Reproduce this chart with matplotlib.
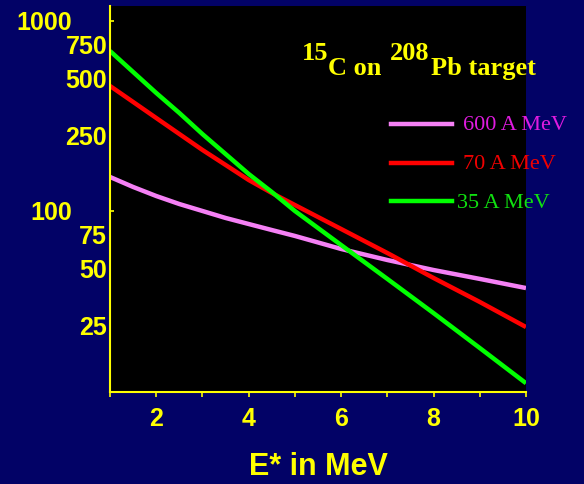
import numpy as np
import matplotlib
matplotlib.use('Agg')
import matplotlib.pyplot as plt
from matplotlib.lines import Line2D
from matplotlib.ticker import FixedLocator, NullFormatter

# excitation energy E* (MeV) and the three curves
e_star = [1, 1.5, 2, 2.5, 3, 3.5, 4, 4.5, 5, 6, 7, 8, 9, 10]
val_600 = [151, 133.8, 119.9, 108.8, 100, 91.9, 85.4, 79.4, 73.9, 63.1, 55.2, 48.9, 43.9, 39.3]
val_70 = [455, 374.8, 308.6, 254.2, 209.5, 174.7, 145.6, 124.4, 107.5, 80.4, 60.1, 44.4, 33.2, 24.5]
val_35 = [695, 539, 418, 328, 254, 199.5, 156.6, 125.9, 100, 66.2, 43.9, 29.0, 19.0, 12.4]

labels = ['600 A MeV', '70 A MeV', '35 A MeV']
line_colors = ['#F580F5', '#FF0000', '#00FF00']
text_colors = ['#E01BE0', '#F00000', '#10E010']

ymajor = [100, 1000]
yminor = [25, 50, 75, 250, 500, 750]
xmajor = [2, 4, 6, 8, 10]
xminor = [1, 3, 5, 7, 9]

W, H = 584, 484
bg = '#020266'
yel = '#FFFF00'
sans = 'Liberation Sans'
serif = 'Liberation Serif'

fig = plt.figure(figsize=(W / 100, H / 100), dpi=100, facecolor=bg)
ax = fig.add_axes([110 / W, 1 - 392 / H, 416 / W, 386 / H])
ax.set_facecolor('black')

for vals, c in zip([val_600, val_70, val_35], line_colors):
    ax.plot(e_star, vals, color=c, lw=3.2, solid_capstyle='butt')

ax.set_yscale('log')
ax.set_xlim(1, 10)
ax.set_ylim(11.15, 1199)

for s in ['top', 'right']:
    ax.spines[s].set_visible(False)
for s in ['left', 'bottom']:
    ax.spines[s].set_color(yel)
    ax.spines[s].set_linewidth(1.5)

ax.yaxis.set_major_locator(FixedLocator(ymajor))
ax.yaxis.set_minor_locator(FixedLocator(yminor))
ax.set_yticklabels([str(v) for v in ymajor])
ax.set_yticklabels([str(v) for v in yminor], minor=True)
ax.tick_params(axis='y', which='major', direction='in', length=3, width=1.2,
               color=yel, pad=27, labelcolor=yel, labelsize=18)
ax.tick_params(axis='y', which='minor', length=0, pad=2,
               labelcolor=yel, labelsize=18)

ax.xaxis.set_major_locator(FixedLocator(xmajor))
ax.xaxis.set_minor_locator(FixedLocator(xminor))
ax.xaxis.set_minor_formatter(NullFormatter())
ax.set_xticklabels([str(v) for v in xmajor])
ax.tick_params(axis='x', which='both', direction='out', length=3.5, width=1.2,
               color=yel, pad=7, labelcolor=yel, labelsize=18)

for lab in ax.get_xticklabels() + ax.get_yticklabels() + ax.get_yticklabels(minor=True):
    lab.set_fontfamily(sans)
    lab.set_fontweight('bold')

ax.set_xlabel('E* in MeV', color=yel, fontsize=22, fontweight='bold',
              fontfamily=sans, va='center')
ax.xaxis.set_label_coords(0.5, -0.194)

# title with superscript mass numbers, built piece by piece
renderer = fig.canvas.get_renderer()
pieces = [('15', True, 0), ('C on', False, 8), ('208', True, 2), ('Pb target', False, 0)]
x = 302
for txt, sup, gap in pieces:
    base = 60 if sup else 75
    t = fig.text(x / W, 1 - base / H, txt, color=yel, fontsize=19,
                 fontweight='bold', fontfamily=serif, va='baseline', ha='left')
    x = t.get_window_extent(renderer).x1 + gap

# hand-made legend
leg_y = [124, 163, 201]
leg_tx = [463, 463, 457]
for lab, lc, tc, yy, tx in zip(labels, line_colors, text_colors, leg_y, leg_tx):
    fig.add_artist(Line2D([391 / W, 452 / W], [1 - yy / H] * 2, color=lc, lw=3.2,
                          transform=fig.transFigure))
    fig.text(tx / W, 1 - (yy + 2) / H, lab, color=tc, fontsize=16,
             fontfamily=serif, va='center', ha='left')

fig.savefig('out.png', dpi=100, facecolor=bg)
